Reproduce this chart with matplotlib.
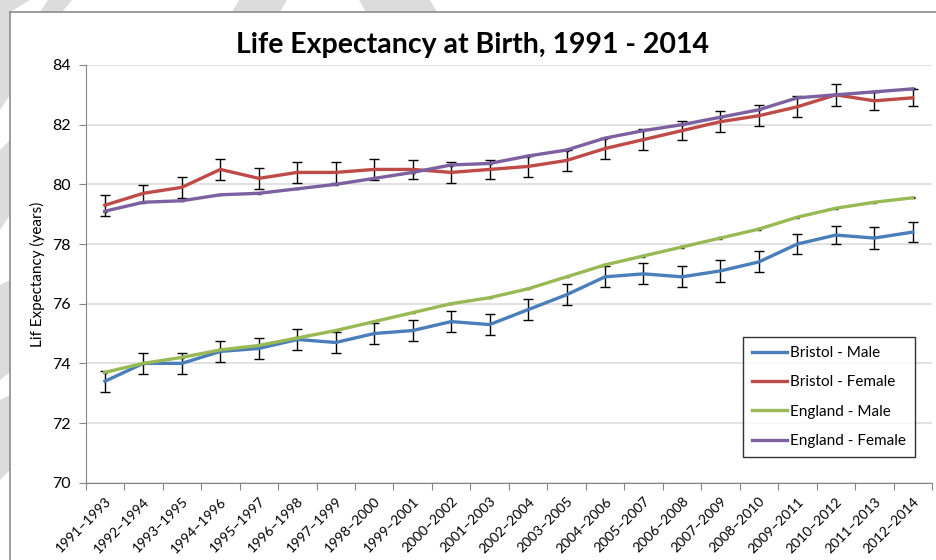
import matplotlib.pyplot as plt
from matplotlib.patches import Polygon
from matplotlib.lines import Line2D
import numpy as np

# Data
periods = ['1991–1993', '1992–1994', '1993–1995', '1994–1996', '1995–1997', '1996–1998',
           '1997–1999', '1998–2000', '1999–2001', '2000–2002', '2001–2003', '2002–2004',
           '2003–2005', '2004–2006', '2005–2007', '2006–2008', '2007–2009', '2008–2010',
           '2009–2011', '2010–2012', '2011–2013', '2012–2014']

bristol_male = [73.4, 74.0, 74.0, 74.4, 74.5, 74.8, 74.7, 75.0, 75.1, 75.4, 75.3,
                75.8, 76.3, 76.9, 77.0, 76.9, 77.1, 77.4, 78.0, 78.3, 78.2, 78.4]
bristol_male_err = [0.36, 0.35, 0.35, 0.35, 0.35, 0.35, 0.34, 0.34, 0.35, 0.35, 0.36,
                    0.35, 0.35, 0.35, 0.35, 0.35, 0.36, 0.35, 0.35, 0.31, 0.36, 0.34]

bristol_female = [79.3, 79.7, 79.9, 80.5, 80.2, 80.4, 80.4, 80.5, 80.5, 80.4, 80.5,
                  80.6, 80.8, 81.2, 81.5, 81.8, 82.1, 82.3, 82.6, 83.0, 82.8, 82.9]
bristol_female_err = [0.35, 0.29, 0.35, 0.36, 0.35, 0.36, 0.36, 0.36, 0.31, 0.36, 0.31,
                      0.36, 0.34, 0.34, 0.35, 0.31, 0.36, 0.35, 0.35, 0.36, 0.31, 0.29]

england_male = [73.7, 74.0, 74.2, 74.45, 74.6, 74.85, 75.1, 75.4, 75.7, 76.0, 76.2,
                76.5, 76.9, 77.3, 77.6, 77.9, 78.2, 78.5, 78.9, 79.2, 79.4, 79.55]
england_female = [79.1, 79.4, 79.45, 79.65, 79.7, 79.85, 80.0, 80.2, 80.4, 80.65, 80.7,
                  80.95, 81.15, 81.55, 81.8, 82.0, 82.25, 82.5, 82.9, 83.0, 83.1, 83.2]
england_err = 0.02

W, H = 937, 560
plt.rcParams['font.family'] = ['Lato', 'DejaVu Sans']

fig = plt.figure(figsize=(W / 100, H / 100), dpi=100)

def px(x, y):
    # pixel coords (top-left origin) -> figure fraction
    return (x / W, 1 - y / H)

# light grey background shapes outside the chart frame
grey = '#dcdcdc'
shapes = [
    [(0, 0), (30, 0), (10, 12), (10, 95), (0, 110)],
    [(48, 0), (72, 0), (62, 12), (40, 12)],
    [(239, 0), (287, 0), (280, 12), (232, 12)],
    [(359, 0), (430, 0), (437, 12), (366, 12)],
    [(0, 150), (10, 140), (10, 215), (0, 230)],
    [(0, 285), (10, 280), (10, 372), (0, 380)],
    [(0, 400), (10, 395), (10, 470), (0, 480)],
]
for s in shapes:
    fig.patches.append(Polygon([px(*p) for p in s], closed=True, transform=fig.transFigure,
                               facecolor=grey, edgecolor='none', zorder=0))

# chart frame
fig.lines.append(Line2D([px(10, 12)[0], 1.0], [px(10, 12)[1]] * 2, transform=fig.transFigure,
                        color='#8c8c8c', lw=1.2))
fig.lines.append(Line2D([px(10, 12)[0]] * 2, [px(10, 12)[1], 0.0], transform=fig.transFigure,
                        color='#8c8c8c', lw=1.2))

left, right = 85.7, 932
top, bottom = 65, 482.7
ax = fig.add_axes([left / W, 1 - bottom / H, (right - left) / W, (bottom - top) / H])
ax.set_facecolor('none')

x = np.arange(len(periods))

ax.errorbar(x, bristol_male, yerr=bristol_male_err, color='#4A7EBB', lw=2.4,
            ecolor='black', elinewidth=1, capsize=3.5, capthick=1, label='Bristol - Male', zorder=3)
ax.errorbar(x, bristol_female, yerr=bristol_female_err, color='#BE4B48', lw=2.4,
            ecolor='black', elinewidth=1, capsize=3.5, capthick=1, label='Bristol - Female', zorder=3)
ax.errorbar(x, england_male, yerr=england_err, color='#98B954', lw=2.4,
            ecolor='black', elinewidth=1, capsize=1.5, capthick=1, label='England - Male', zorder=3)
ax.errorbar(x, england_female, yerr=england_err, color='#7D60A0', lw=2.4,
            ecolor='black', elinewidth=1, capsize=1.5, capthick=1, label='England - Female', zorder=3)

ax.set_xlim(-0.5, len(periods) - 0.5)
ax.set_ylim(70, 84)
ax.set_yticks(np.arange(70, 85, 2))
ax.grid(axis='y', color='#dddddd', lw=1.2)
ax.set_axisbelow(True)

# ticks at category boundaries, labels at centres
ax.set_xticks(np.arange(-0.5, len(periods), 1))
ax.set_xticklabels([])
ax.set_xticks(x, minor=True)
ax.set_xticklabels(periods, minor=True, rotation=45, ha='right', va='top',
                   rotation_mode='anchor', fontsize=10)
ax.tick_params(axis='x', which='minor', length=0, pad=9)
ax.tick_params(axis='x', which='major', length=5, color='#868686')
ax.tick_params(axis='y', length=5, color='#868686', labelsize=11.5, pad=6)

for s in ['top', 'right']:
    ax.spines[s].set_visible(False)
for s in ['left', 'bottom']:
    ax.spines[s].set_color('#868686')

ax.set_ylabel('Lif Expectancy (years)', fontsize=11, labelpad=5)

fig.text(473 / W, 1 - 45 / H, 'Life Expectancy at Birth, 1991 - 2014', ha='center', va='center',
         fontsize=20.5, fontweight='bold')

handles, labels = ax.get_legend_handles_labels()
handles = [Line2D([], [], color=h[0].get_color(), lw=2.4) for h in handles]
leg = fig.legend(handles, labels, loc='upper left', bbox_to_anchor=px(743, 337), fontsize=11,
                 frameon=True, fancybox=False, edgecolor='black', handlelength=2.3,
                 handletextpad=0.15, labelspacing=1.0, borderpad=0.6, borderaxespad=0)
leg.get_frame().set_linewidth(1)

plt.savefig('out.png', dpi=100)
